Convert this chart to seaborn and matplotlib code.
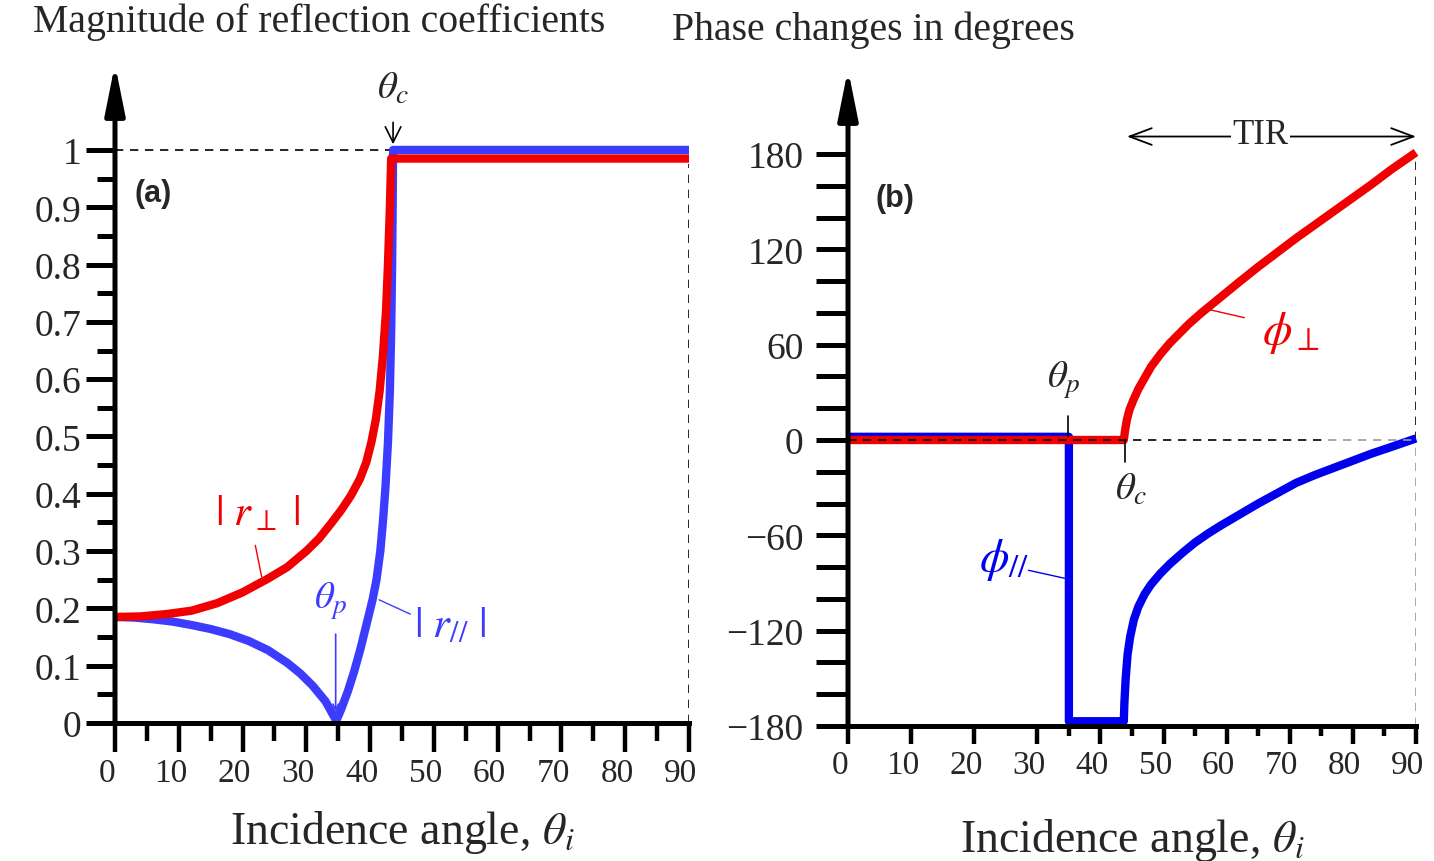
import numpy as np
import pandas as pd
import matplotlib
matplotlib.use("Agg")
import matplotlib.pyplot as plt
import matplotlib.transforms as mtrans
import seaborn as sns

sns.set_style("white")
plt.rcParams['font.family'] = ['Liberation Serif', 'DejaVu Serif']
plt.rcParams['mathtext.fontset'] = 'stix'
plt.rcParams['axes.unicode_minus'] = True

# (a) magnitude of reflection coefficients
theta_perp = [0, 4, 8, 12, 16, 20, 24, 27, 30, 32, 34, 35.5, 37, 38.4, 39.4, 40.2, 40.9, 41.5, 42, 42.5,
              42.8, 43.1, 43.3, 90]
r_perp = [0.185, 0.186, 0.19, 0.196, 0.209, 0.228, 0.252, 0.272, 0.30, 0.322, 0.35, 0.372, 0.397, 0.426,
          0.455, 0.49, 0.53, 0.58, 0.64, 0.72, 0.80, 0.90, 0.985, 0.985]
theta_par = [0, 3, 6, 9, 12, 15, 18, 21, 24, 27, 29, 31, 33, 34.7, 35.5, 36.5, 37.5, 38.5, 39.5, 40.4,
             41, 41.6, 42, 42.4, 42.8, 43.1, 43.3, 43.45, 43.55, 43.6, 90]
r_par = [0.185, 0.184, 0.181, 0.177, 0.171, 0.164, 0.155, 0.143, 0.127, 0.105, 0.087, 0.065, 0.038, 0.004,
         0.025, 0.055, 0.09, 0.13, 0.175, 0.216, 0.25, 0.30, 0.35, 0.41, 0.49, 0.58, 0.68, 0.80, 0.92,
         1.0, 1.0]

# (b) phase changes in degrees
theta_phi_perp = [0, 43.7, 43.9, 44.2, 44.6, 45.2, 46, 47, 48, 49.5, 51, 52.5, 54, 56, 58, 60, 62, 65, 68,
                  71, 74, 77, 80, 83, 86, 90]
phi_perp = [0, 0, 6, 13, 19, 25, 32, 39, 46, 54, 61, 67, 73, 80, 86.5, 93, 99.5, 109, 118, 127, 135.5,
            144, 152.5, 161, 170, 181]
theta_phi_par = [0, 35, 35, 43.7, 43.8, 44, 44.3, 44.7, 45.3, 46, 47, 48, 49.5, 51, 53, 55, 57, 59, 62,
                 65, 68, 71, 74, 77, 80, 83, 86, 90]
phi_par = [2, 2, -177, -177, -165, -150, -135, -124, -113, -105, -97, -91, -84, -78, -71, -64.5, -59, -54,
           -47, -40, -33.5, -27, -22, -17.5, -13, -8.5, -4.5, 1]

x_ticks = list(range(0, 91, 10))
mag_ticks = [0, 0.1, 0.2, 0.3, 0.4, 0.5, 0.6, 0.7, 0.8, 0.9, 1]
mag_labels = ['0', '0.1', '0.2', '0.3', '0.4', '0.5', '0.6', '0.7', '0.8', '0.9', '1']
phase_ticks = [-180, -120, -60, 0, 60, 120, 180]
phase_labels = ['\u2212180', '\u2212120', '\u221260', '0', '60', '120', '180']

RED = '#f00000'
BLUE_A = '#3c3cff'
BLUE_B = '#0000ee'

W, H = 1434, 862
fig = plt.figure(figsize=(W / 100, H / 100), dpi=100)

ax1 = fig.add_axes([115 / W, (H - 724) / H, 574 / W, (724 - 65) / H])
ax2 = fig.add_axes([848 / W, (H - 727) / H, 568 / W, (727 - 70) / H])


def style_axes(ax, ymin, ymax, xlen, xminlen, ylen, yminlen, ypad):
    ax.set_xlim(0, 90)
    ax.set_ylim(ymin, ymax)
    for s in ['top', 'right', 'left']:
        ax.spines[s].set_visible(False)
    ax.spines['bottom'].set_linewidth(3.6)
    ax.spines['bottom'].set_color('k')
    ax.tick_params(axis='x', which='major', direction='out', length=xlen, width=3.2, color='k',
                   labelsize=24, pad=4, bottom=True)
    ax.tick_params(axis='x', which='minor', direction='out', length=xminlen, width=3.2, color='k', bottom=True)
    ax.tick_params(axis='y', which='major', direction='out', length=ylen, width=3.6, color='k',
                   labelsize=27, pad=ypad, left=True)
    ax.tick_params(axis='y', which='minor', direction='out', length=yminlen, width=3.6, color='k', left=True)
    ax.set_xticks(x_ticks)
    # y axis line with arrow head
    ax.annotate('', xy=(0, ymax), xytext=(0, ymin), xycoords='data',
                arrowprops=dict(arrowstyle='-|>,head_length=1.5,head_width=0.3', lw=3.6, color='k',
                                shrinkA=0, shrinkB=0, mutation_scale=20),
                annotation_clip=False)
    ax.grid(False)
    ax.set_facecolor('white')


def finish_lines(ax):
    for ln in ax.lines:
        ln.set_clip_on(False)
        ln.set_solid_joinstyle('round')
        ln.set_solid_capstyle('butt')


# ---- (a) ----
style_axes(ax1, 0, 1.15, 21, 13, 21, 13, 3)
ax1.set_xticks(list(range(5, 90, 10)), minor=True)
ax1.set_yticks(mag_ticks)
ax1.set_yticklabels(mag_labels)
ax1.set_yticks(list(np.arange(0.05, 1.0, 0.1)), minor=True)
ax1.set_ylabel('')

sns.lineplot(x=theta_par, y=r_par, ax=ax1, color=BLUE_A, lw=6, sort=False, estimator=None)
sns.lineplot(x=theta_perp, y=r_perp, ax=ax1, color=RED, lw=6, sort=False, estimator=None)
finish_lines(ax1)

ax1.plot([0, 43.4], [1, 1], color='k', lw=1.2, dashes=(5, 4), zorder=1)
ax1.plot([90, 90], [0, 0.975], color='k', lw=1.2, dashes=(5, 4), zorder=1)

ax1.annotate(r'$\theta_c$', xy=(43.6, 1.01), xytext=(43.6, 1.108), ha='center', va='center', fontsize=28,
             arrowprops=dict(arrowstyle='->', lw=1.2, color='k', shrinkA=9, shrinkB=0))
ax1.text(3.0, 0.925, '(a)', fontsize=22, fontweight='bold', family=['Liberation Sans', 'DejaVu Sans'],
         ha='left', va='center')
ax1.text(22.3, 0.365, r'$|\ r_{\perp}\ |$', color=RED, fontsize=31, ha='center', va='center')
ax1.plot([22.0, 23.0], [0.31, 0.255], color=RED, lw=1.0)
ax1.text(33.8, 0.215, r'$\theta_p$', color=BLUE_A, fontsize=28, ha='center', va='center')
ax1.annotate('', xy=(34.6, 0.02), xytext=(34.6, 0.155),
             arrowprops=dict(arrowstyle='->', lw=1.2, color=BLUE_A, shrinkA=0, shrinkB=0))
ax1.text(52.5, 0.17, r'$|\ r_{//}\ |$', color=BLUE_A, fontsize=31, ha='center', va='center')
ax1.plot([46.3, 41.4], [0.19, 0.215], color=BLUE_A, lw=1.0)

ax1.set_xlabel(r'Incidence angle, $\theta_i$', fontsize=33, labelpad=14)

# ---- (b) ----
ymax2 = 180 + (155 - 70) / (572 / 360)
style_axes(ax2, -180, ymax2, 13, 7, 23, 23, 9)
ax2.set_xticks(list(range(35, 90, 10)), minor=True)
ax2.set_yticks(phase_ticks)
ax2.set_yticklabels(phase_labels)
ax2.set_yticks([v for v in range(-160, 180, 20) if v % 60 != 0], minor=True)

sns.lineplot(x=theta_phi_par, y=phi_par, ax=ax2, color=BLUE_B, lw=6, sort=False, estimator=None)
sns.lineplot(x=theta_phi_perp, y=phi_perp, ax=ax2, color=RED, lw=6, sort=False, estimator=None)
finish_lines(ax2)

ax2.plot([0, 76], [0, 0], color='k', lw=1.2, dashes=(5, 4), zorder=5)
ax2.plot([76, 90], [0, 0], color='#9a9a9a', lw=1.2, dashes=(5, 4), zorder=5)
ax2.plot([90, 90], [0, 178], color='k', lw=1.2, dashes=(5, 4), zorder=1)
ax2.plot([90, 90], [-180, 0], color='#9a9a9a', lw=1.2, dashes=(5, 4), zorder=1)

ax2.text(4.3, 152, '(b)', fontsize=22, fontweight='bold', family=['Liberation Sans', 'DejaVu Sans'],
         ha='left', va='center')
ax2.annotate('', xy=(44.2, 191), xytext=(90, 191),
             arrowprops=dict(arrowstyle='<->,head_length=0.8,head_width=0.3', lw=1.3, color='k',
                             shrinkA=0, shrinkB=0, mutation_scale=20))
ax2.text(65.3, 192, 'TIR', fontsize=25, ha='center', va='center',
         bbox=dict(facecolor='white', edgecolor='none', pad=1))
ax2.text(34.2, 38, r'$\theta_p$', fontsize=28, ha='center', va='center')
ax2.plot([34.9, 34.9], [2, 15], color='k', lw=1.2)
ax2.text(44.9, -31, r'$\theta_c$', fontsize=28, ha='center', va='center')
ax2.plot([43.9, 43.9], [0, -14], color='k', lw=1.2)
ax2.text(70.2, 68, r'$\phi_{\perp}$', color=RED, fontsize=34, ha='center', va='center')
ax2.plot([57.3, 62.8], [82, 77], color=RED, lw=1.0)
ax2.text(24.8, -75, r'$\phi_{//}$', color=BLUE_B, fontsize=34, ha='center', va='center')
ax2.plot([28.6, 34.3], [-82, -87], color=BLUE_B, lw=1.0)

ax2.set_xlabel(r'Incidence angle, $\theta_i$', fontsize=33, labelpad=26)
ax2.set_ylabel('')

# tick labels sit a little to the left of their ticks in the original
shift = mtrans.ScaledTranslation(-6 / 72, 0, fig.dpi_scale_trans)
for ax in (ax1, ax2):
    for lab in ax.get_xticklabels():
        lab.set_transform(lab.get_transform() + shift)

fig.text(33 / W, 1 - 22 / H, 'Magnitude of reflection coefficients', fontsize=28.6, ha='left', va='center')
fig.text(672 / W, 1 - 30 / H, 'Phase changes in degrees', fontsize=28.6, ha='left', va='center')

fig.savefig('out.png', dpi=100, facecolor='white')
